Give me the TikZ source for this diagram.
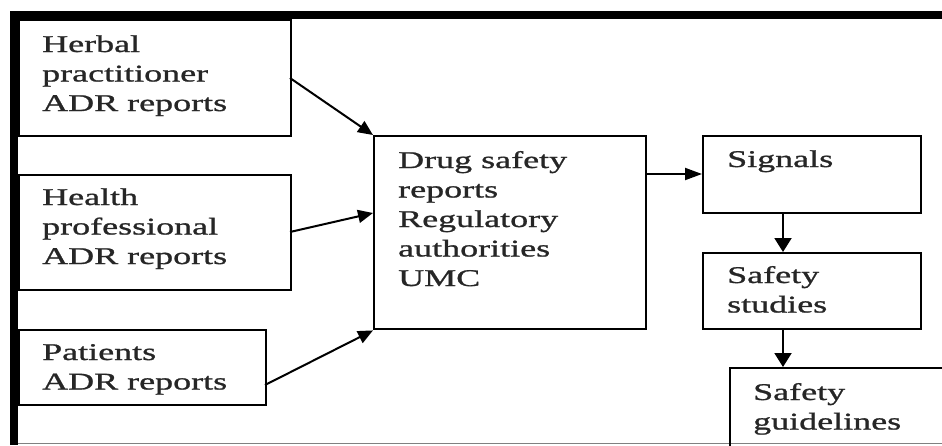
\documentclass[tikz,border=0pt]{standalone}
\usepackage{fontspec}
\setmainfont{Liberation Serif}[FakeStretch=1.5,FakeBold=1]
\usetikzlibrary{arrows.meta}
\begin{document}
\begin{tikzpicture}[x=1pt,y=-1pt,
  box/.style={draw=black,line width=2.4pt,rectangle,inner sep=0pt,anchor=north west},
  txt/.style={inner sep=0pt,anchor=base west,text=black!85,font=\fontsize{24}{29.5}\selectfont},
  arr/.style={line width=2pt,-{Triangle[length=15pt,width=13pt]}},
  harr/.style={line width=2pt,-{Triangle[length=17pt,width=12pt]}},
  varr/.style={line width=2pt,-{Triangle[length=14pt,width=17pt]}}]
\useasboundingbox (0,0) rectangle (942,445);
\clip (0,0) rectangle (942,445);
% frame
\fill[black] (10,11) rectangle (942,19);
\fill[black] (10,11) rectangle (18,445);
\draw[gray,line width=1pt] (18,443) -- (942,443);
% boxes
\node[box,minimum width=272pt,minimum height=116pt] (herbal) at (18,19) {};
\node[box,minimum width=272pt,minimum height=115pt] (health) at (18,174) {};
\node[box,minimum width=247pt,minimum height=75pt] (patients) at (18,329) {};
\node[box,minimum width=272pt,minimum height=193pt] (drug) at (373,135) {};
\node[box,minimum width=218pt,minimum height=77pt] (signals) at (702,135) {};
\node[box,minimum width=218pt,minimum height=76pt] (studies) at (702,252) {};
\node[box,minimum width=260pt,minimum height=110pt] (guide) at (729,367) {};
% texts
\node[txt] (herbalT) at (42,52) {\parbox[t]{240pt}{Herbal\\practitioner\\ADR reports}};
\node[txt] (healthT) at (42,205) {\parbox[t]{240pt}{Health\\professional\\ADR reports}};
\node[txt] (patientsT) at (42,360) {\parbox[t]{220pt}{Patients\\ADR reports}};
\node[txt] (drugT) at (398,168) {\parbox[t]{240pt}{Drug safety\\reports\\Regulatory\\authorities\\UMC}};
\node[txt] (signalsT) at (727,167) {Signals};
\node[txt] (studiesT) at (727,283) {\parbox[t]{180pt}{Safety\\studies}};
\node[txt] (guideT) at (753,400) {\parbox[t]{180pt}{Safety\\guidelines}};
% connectors
\coordinate (h1) at (290,78);
\coordinate (h2) at (290,232);
\coordinate (h3) at (265,385);
\coordinate (d2) at (373,213);
\draw[arr] (h1) -- (drug.north west);
\draw[arr] (h2) -- (d2);
\draw[arr] (h3) -- (drug.south west);
\draw[harr] (drug.east |- 0,174) -- (signals.west |- 0,174);
\draw[varr] ([xshift=81pt]signals.south west) -- ([xshift=81pt]studies.north west);
\draw[varr] ([xshift=81pt]studies.south west) -- ([xshift=54pt]guide.north west);
\end{tikzpicture}
\end{document}
